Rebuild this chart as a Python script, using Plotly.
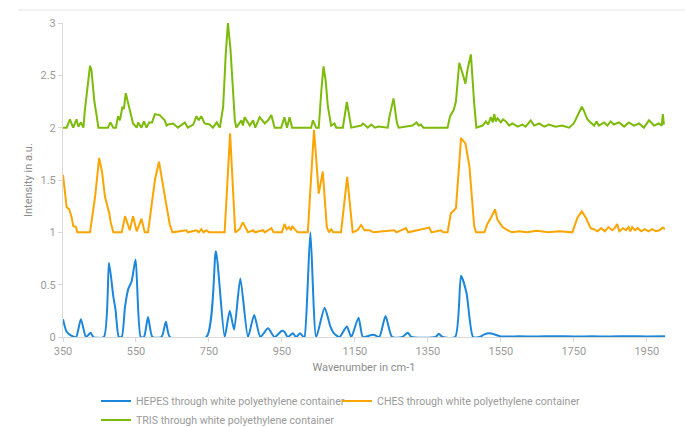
import plotly.graph_objects as go

# ---------------- data ----------------
hepes_x = [350, 360, 374, 386, 399, 413, 426, 433, 462, 476, 488, 494, 503, 511, 520, 529, 538, 549, 563,
           572, 583, 595, 620, 632, 643, 743, 769, 793, 807, 819, 836, 857, 874, 891, 912, 930, 950, 957,
           966, 980, 989, 1000, 1009, 1012, 1028, 1044, 1067, 1083, 1094, 1108, 1128, 1140, 1160, 1172,
           1195, 1204, 1217, 1234, 1252, 1280, 1295, 1305, 1371, 1380, 1390, 1425, 1441, 1456, 1474,
           1491, 1505, 1518, 1537, 1551, 1600, 1650, 1700, 1750, 1800, 1850, 1900, 1950, 2000]
hepes_y = [0.17, 0.05, 0.01, 0.0, 0.17, 0.0, 0.04, 0.0, 0.0, 0.71, 0.385, 0.26, 0.0, 0.0, 0.29, 0.46, 0.53,
           0.74, 0.0, 0.0, 0.19, 0.0, 0.0, 0.146, 0.0, 0.0, 0.82, 0.0, 0.25, 0.07, 0.56, 0.0, 0.21, 0.0,
           0.083, 0.0, 0.06, 0.05, 0.0, 0.035, 0.0, 0.035, 0.0, 0.0, 1.0, 0.0, 0.28, 0.10, 0.03, 0.0, 0.10,
           0.0, 0.185, 0.0, 0.02, 0.02, 0.0, 0.2, 0.0, 0.0, 0.04, 0.0, 0.0, 0.03, 0.0, 0.0, 0.585, 0.42,
           0.0, 0.0, 0.025, 0.035, 0.02, 0.005, 0.006, 0.005, 0.007, 0.005, 0.006, 0.005, 0.007, 0.005, 0.006]

ches_x = [350, 360, 367, 374, 378, 386, 389, 424, 438, 449, 457, 465, 477, 481, 488, 511, 520, 533, 542,
          552, 565, 574, 583, 593, 602, 613, 624, 634, 643, 650, 688, 692, 716, 722, 729, 735, 743, 750,
          793, 808, 822, 834, 843, 857, 871, 876, 898, 903, 921, 927, 950, 957, 963, 969, 975, 978, 985,
          993, 1021, 1038, 1051, 1062, 1073, 1079, 1085, 1091, 1112, 1129, 1144, 1157, 1167, 1176, 1190,
          1200, 1258, 1264, 1290, 1296, 1354, 1360, 1386, 1392, 1404, 1413, 1427, 1441, 1453, 1464, 1477,
          1482, 1505, 1513, 1523, 1534, 1541, 1555, 1568, 1581, 1600, 1620, 1650, 1680, 1710, 1746, 1760,
          1772, 1783, 1796, 1805, 1815, 1825, 1835, 1845, 1855, 1862, 1869, 1875, 1885, 1893, 1900, 1905,
          1910, 1918, 1925, 1935, 1945, 1955, 1965, 1975, 1985, 1994, 2000]
ches_y = [1.55, 1.24, 1.22, 1.14, 1.06, 1.05, 1.0, 1.0, 1.34, 1.71, 1.58, 1.34, 1.18, 1.09, 1.0, 1.0, 1.155,
          1.02, 1.155, 1.01, 1.13, 1.0, 1.0, 1.29, 1.5, 1.675, 1.47, 1.245, 1.07, 1.0, 1.02, 1.0, 1.02, 1.0,
          1.03, 1.0, 1.02, 1.0, 1.0, 1.945, 1.0, 1.03, 1.095, 1.0, 1.02, 1.0, 1.02, 1.0, 1.04, 1.0, 1.0,
          1.08, 1.03, 1.05, 1.02, 1.06, 1.03, 1.0, 1.0, 1.98, 1.37, 1.58, 1.05, 1.0, 1.03, 1.0, 1.0, 1.53,
          1.0, 1.02, 1.07, 1.02, 1.02, 1.0, 1.02, 1.0, 1.04, 1.0, 1.045, 1.0, 1.02, 1.0, 1.0, 1.18, 1.23,
          1.9, 1.85, 1.63, 1.06, 1.0, 1.0, 1.08, 1.14, 1.22, 1.12, 1.05, 1.02, 1.0, 1.01, 1.0, 1.015, 1.0,
          1.01, 1.0, 1.14, 1.2, 1.14, 1.04, 1.03, 1.01, 1.04, 1.01, 1.05, 1.02, 1.04, 1.08, 1.01, 1.04, 1.02,
          1.05, 1.01, 1.05, 1.02, 1.04, 1.01, 1.03, 1.01, 1.03, 1.01, 1.02, 1.045, 1.03]

tris_x = [350, 360, 369, 378, 387, 392, 399, 406, 410, 418, 424, 428, 436, 442, 447, 473, 480, 488, 495,
          501, 506, 513, 517, 522, 533, 542, 552, 556, 565, 572, 579, 586, 594, 602, 615, 629, 634, 638,
          652, 665, 684, 692, 707, 716, 722, 729, 738, 752, 761, 771, 780, 789, 796, 802, 809, 816, 821,
          825, 839, 843, 848, 855, 862, 871, 877, 889, 903, 912, 921, 930, 948, 957, 964, 971, 978, 1030,
          1035, 1044, 1051, 1058, 1064, 1070, 1076, 1085, 1094, 1099, 1117, 1128, 1140, 1167, 1172, 1176,
          1185, 1195, 1205, 1215, 1240, 1245, 1256, 1265, 1270, 1308, 1319, 1325, 1331, 1338, 1404, 1411,
          1421, 1427, 1436, 1445, 1453, 1459, 1468, 1477, 1483, 1500, 1509, 1515, 1523, 1528, 1532, 1536,
          1541, 1550, 1556, 1564, 1573, 1582, 1596, 1609, 1618, 1632, 1641, 1655, 1669, 1682, 1700, 1718,
          1737, 1750, 1760, 1772, 1778, 1787, 1796, 1806, 1812, 1819, 1833, 1842, 1851, 1860, 1874, 1888,
          1901, 1915, 1929, 1942, 1956, 1970, 1983, 1991, 1994, 1997]
tris_y = [2.0, 2.0, 2.08, 2.0, 2.08, 2.01, 2.05, 2.0, 2.17, 2.4, 2.59, 2.55, 2.25, 2.12, 2.0, 2.0, 2.05,
          2.0, 2.0, 2.11, 2.07, 2.2, 2.18, 2.33, 2.17, 2.04, 2.0, 2.05, 2.0, 2.06, 2.0, 2.05, 2.05, 2.13,
          2.12, 2.07, 2.02, 2.03, 2.04, 2.0, 2.05, 2.0, 2.03, 2.11, 2.07, 2.11, 2.04, 2.03, 2.0, 2.05, 2.0,
          2.2, 2.7, 3.0, 2.75, 2.3, 2.07, 2.0, 2.07, 2.02, 2.1, 2.06, 2.02, 2.07, 2.0, 2.1, 2.04, 2.07,
          2.12, 2.0, 2.0, 2.1, 2.0, 2.1, 2.0, 2.0, 2.07, 2.0, 2.0, 2.35, 2.585, 2.45, 2.2, 2.02, 2.04, 2.0,
          2.0, 2.245, 2.0, 2.02, 2.04, 2.03, 2.0, 2.03, 2.0, 2.01, 2.0, 2.11, 2.28, 2.05, 2.0, 2.02, 2.05,
          2.02, 2.03, 2.0, 2.0, 2.11, 2.17, 2.25, 2.62, 2.52, 2.42, 2.56, 2.70, 2.23, 2.0, 2.02, 2.06, 2.03,
          2.1, 2.05, 2.13, 2.06, 2.09, 2.05, 2.08, 2.06, 2.02, 2.04, 2.01, 2.03, 2.01, 2.07, 2.02, 2.04,
          2.01, 2.03, 2.01, 2.02, 2.0, 2.04, 2.12, 2.2, 2.16, 2.08, 2.05, 2.02, 2.06, 2.02, 2.05, 2.02,
          2.06, 2.03, 2.05, 2.01, 2.05, 2.02, 2.04, 2.0, 2.07, 2.02, 2.04, 2.02, 2.13, 2.03]

series_names = ["HEPES through white polyethylene container",
                "CHES through white polyethylene container",
                "TRIS through white polyethylene container"]
x_ticks = [350, 550, 750, 950, 1150, 1350, 1550, 1750, 1950]
y_ticks = [0, 0.5, 1, 1.5, 2, 2.5, 3]
y_tick_labels = ["0", "0.5", "1", "1.5", "2", "2.5", "3"]

colors = ["#1C87DA", "#FBA502", "#7DBB0A"]

fig = go.Figure()
fig.add_trace(go.Scatter(x=hepes_x, y=hepes_y, name=series_names[0], mode="lines", legend="legend",
                         legendrank=1,
                         line=dict(color=colors[0], width=2, shape="spline", smoothing=0.6)))
fig.add_trace(go.Scatter(x=ches_x, y=ches_y, name=series_names[1], mode="lines", legend="legend2",
                         line=dict(color=colors[1], width=2)))
fig.add_trace(go.Scatter(x=tris_x, y=tris_y, name=series_names[2], mode="lines", legend="legend",
                         legendrank=2,
                         line=dict(color=colors[2], width=2)))

W, H = 685, 427
grey = "#9a9a9a"
axis_col = "#d9d9d9"
L, R, T, B = 63, 665, 23, 337  # plot area in page pixels
legend_common = dict(orientation="v", xanchor="left", yanchor="top", xref="container", yref="container",
                     font=dict(size=10.6, color=grey), itemwidth=30, tracegroupgap=0,
                     bgcolor="rgba(0,0,0,0)", borderwidth=0)
fig.update_layout(
    width=W, height=H,
    margin=dict(l=L, r=W - R, t=T, b=H - B, autoexpand=False),
    paper_bgcolor="white", plot_bgcolor="white",
    font=dict(family="Roboto, Arial, sans-serif", size=11, color=grey),
    xaxis=dict(range=[350, 2000], tickvals=x_ticks, showgrid=False, zeroline=False, automargin=False,
               showline=True, linecolor=axis_col, linewidth=1, ticks="outside", ticklen=4,
               tickcolor=axis_col, tickfont=dict(size=11, color=grey),
               title=dict(text="Wavenumber in cm-1", font=dict(size=11, color="#8c8c8c"), standoff=6)),
    yaxis=dict(range=[0, 3.0], tickvals=y_ticks, ticktext=y_tick_labels, showgrid=False, automargin=False,
               zeroline=False, showline=True, linecolor=axis_col, linewidth=1, ticks="outside",
               ticklen=4, tickcolor=axis_col, tickfont=dict(size=11, color=grey)),
    legend=dict(x=96 / W, y=1 - 386.5 / H, **legend_common),
    legend2=dict(x=337 / W, y=1 - 386.5 / H, **legend_common),
    showlegend=True,
)
fig.add_annotation(text="Intensity in a.u.", textangle=-90, xref="paper", yref="paper",
                   x=(28 - L) / (R - L), y=0.5, xanchor="center", yanchor="middle", showarrow=False,
                   font=dict(size=11, color="#8c8c8c"))
fig.add_shape(type="line", xref="paper", yref="paper",
              x0=(18 - L) / (R - L), x1=(W - L) / (R - L), y0=(B - 10) / (B - T), y1=(B - 10) / (B - T),
              line=dict(color="#e6e6e6", width=1))

fig.write_html("out.html", config={"displayModeBar": False},
               post_script="document.body.style.margin='0';")
